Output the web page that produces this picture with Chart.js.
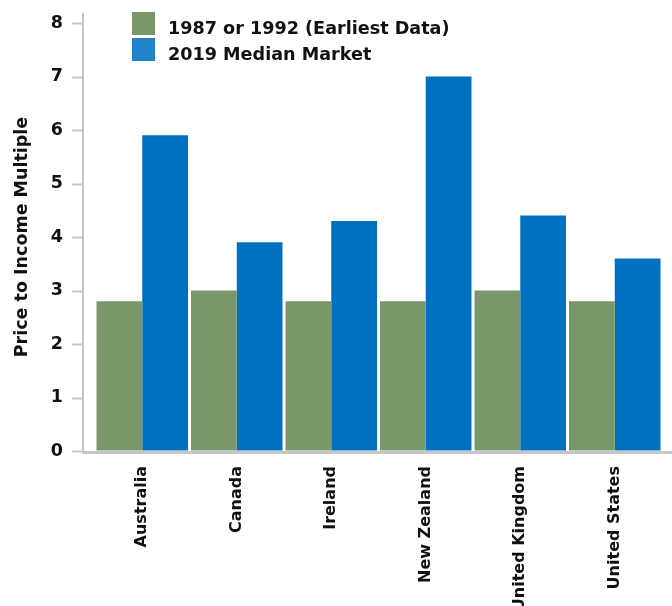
<!DOCTYPE html>
<html lang="en">
<head>
    <meta charset="UTF-8">
    <title>Price to Income Multiple</title>
    <script src="https://cdn.jsdelivr.net/npm/chart.js"></script>
    <style>
        html, body {
            margin: 0;
            padding: 0;
            background: #fff;
            overflow: hidden;
        }
        #wrap {
            width: 672px;
            height: 606px;
        }
    </style>
</head>
<body>
    <div id="wrap"><canvas id="chart" width="672" height="606"></canvas></div>

    <script>
        // Data
        const countries = ['Australia', 'Canada', 'Ireland', 'New Zealand', 'United Kingdom', 'United States'];
        const earliest = [2.8, 3.0, 2.8, 2.8, 3.0, 2.8];
        const median2019 = [5.9, 3.9, 4.3, 7.0, 4.4, 3.6];
        const seriesNames = ['1987 or 1992 (Earliest Data)', '2019 Median Market'];
        const yTicks = [0, 1, 2, 3, 4, 5, 6, 7, 8];

        const FONT = 'DejaVu Sans, Verdana, sans-serif';
        const AXIS_GRAY = '#c6c6c6';
        const legendColors = ['#7a976c', '#2383c8'];

        // axis line sits a bit left of the first bar, and the legend floats inside the plot
        const axesAndLegend = {
            id: 'axesAndLegend',
            afterDatasetsDraw(chart) {
                const ctx = chart.ctx;
                const area = chart.chartArea;
                const y = chart.scales.y;
                const axisX = area.left - 12;
                ctx.save();
                ctx.strokeStyle = AXIS_GRAY;
                ctx.lineWidth = 2;
                ctx.beginPath();
                ctx.moveTo(axisX, 13);
                ctx.lineTo(axisX, area.bottom + 2);
                ctx.stroke();
                yTicks.forEach(v => {
                    const py = Math.round(y.getPixelForValue(v)) + 0.5;
                    ctx.beginPath();
                    ctx.moveTo(axisX - 11, py);
                    ctx.lineTo(axisX, py);
                    ctx.stroke();
                });
                ctx.lineWidth = 3;
                ctx.beginPath();
                ctx.moveTo(axisX - 1, area.bottom + 1.5);
                ctx.lineTo(chart.width, area.bottom + 1.5);
                ctx.stroke();

                // legend
                ctx.font = 'bold 17.6px ' + FONT;
                ctx.textBaseline = 'middle';
                ctx.textAlign = 'left';
                chart.data.datasets.forEach((ds, i) => {
                    const top = 12 + i * 26;
                    ctx.fillStyle = legendColors[i];
                    ctx.fillRect(132, top, 23, 23);
                    ctx.fillStyle = '#111';
                    ctx.fillText(ds.label, 168, top + 17);
                });
                ctx.restore();
            }
        };

        new Chart(document.getElementById('chart'), {
            type: 'bar',
            data: {
                labels: countries,
                datasets: [
                    {
                        label: seriesNames[0],
                        data: earliest,
                        backgroundColor: '#7a976c',
                        categoryPercentage: 0.968,
                        barPercentage: 1.0
                    },
                    {
                        label: seriesNames[1],
                        data: median2019,
                        backgroundColor: '#0070c0',
                        categoryPercentage: 0.968,
                        barPercentage: 1.0
                    }
                ]
            },
            options: {
                responsive: false,
                animation: false,
                layout: {
                    padding: { top: 23, right: 10, left: 0, bottom: 0 }
                },
                plugins: {
                    legend: { display: false },
                    tooltip: { enabled: false }
                },
                scales: {
                    x: {
                        grid: { display: false, drawTicks: false },
                        border: { display: false },
                        ticks: {
                            autoSkip: false,
                            minRotation: 90,
                            maxRotation: 90,
                            padding: 15,
                            color: '#111',
                            font: { family: FONT, size: 16, weight: 'bold' }
                        },
                        afterFit(scale) {
                            scale.height = 155;
                        }
                    },
                    y: {
                        min: 0,
                        max: 8,
                        // invisible tick marks only push the labels away from the plot
                        grid: {
                            display: true,
                            drawOnChartArea: false,
                            drawTicks: true,
                            tickLength: 32,
                            tickColor: 'rgba(0,0,0,0)'
                        },
                        border: { display: false },
                        ticks: {
                            stepSize: 1,
                            padding: 0,
                            color: '#111',
                            font: { family: FONT, size: 17.5, weight: 'bold' }
                        },
                        title: {
                            display: true,
                            text: 'Price to Income Multiple',
                            color: '#111',
                            padding: { top: 12, bottom: 0 },
                            font: { family: FONT, size: 17.5, weight: 'bold' }
                        },
                        afterFit(scale) {
                            scale.width = 95;
                        }
                    }
                }
            },
            plugins: [axesAndLegend]
        });
    </script>
</body>
</html>
